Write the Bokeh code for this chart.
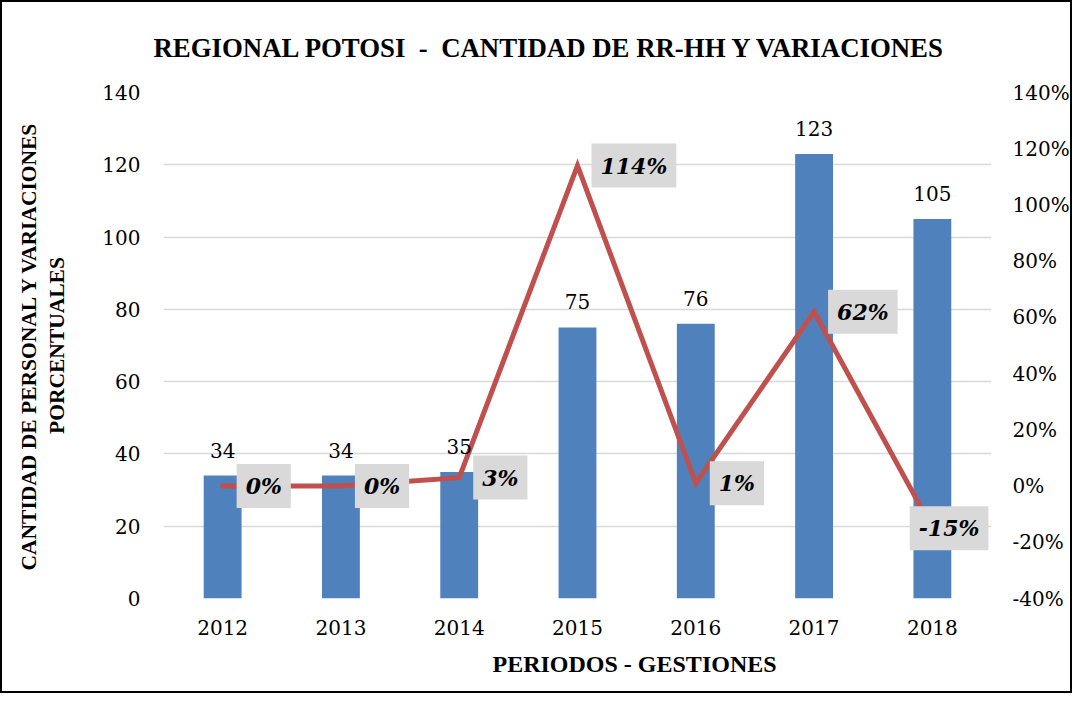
from bokeh.plotting import figure
from bokeh.models import (ColumnDataSource, Range1d, LinearAxis, FixedTicker,
                          PrintfTickFormatter, Label, LabelSet, FactorRange, Title)
from bokeh.embed import file_html
from bokeh.resources import INLINE
from bokeh.core.properties import value

# ---- data ----
years = ["2012", "2013", "2014", "2015", "2016", "2017", "2018"]
staff = [34, 34, 35, 75, 76, 123, 105]
variation = [0, 0, 3, 114, 1, 62, -15]
variation_labels = ["0%", "0%", "3%", "114%", "1%", "62%", "-15%"]
left_ticks = [0, 20, 40, 60, 80, 100, 120, 140]
right_ticks = [-40, -20, 0, 20, 40, 60, 80, 100, 120, 140]
title_text = "REGIONAL POTOSI \u00a0-\u00a0 CANTIDAD DE RR-HH Y VARIACIONES"
ylabel_text = "CANTIDAD DE PERSONAL Y VARIACIONES\nPORCENTUALES"
xlabel_text = "PERIODOS - GESTIONES"

BLUE = "#4f81bd"
RED = "#c0504d"
GRID = "#d9d9d9"
SERIF = "DejaVu Serif"
BOLDSERIF = "Liberation Serif"

src = ColumnDataSource(dict(year=years, staff=staff,
                            staff_label=[str(v) for v in staff],
                            var=variation))

# 1072x693 drawing area + 2px border = 1076x697 on the page
p = figure(x_range=FactorRange(*years), y_range=Range1d(left_ticks[0], left_ticks[-1]),
           width=1072, height=693, output_backend="svg", toolbar_location=None,
           title=None, min_border_left=161, min_border_right=83,
           min_border_top=90, min_border_bottom=97)
p.styles = {"border": "2px solid #000000"}
p.extra_y_ranges = {"pct": Range1d(right_ticks[0], right_ticks[-1])}
p.outline_line_color = None
p.background_fill_color = "white"
p.border_fill_color = "white"

p.xgrid.grid_line_color = None
p.ygrid.grid_line_color = GRID
p.ygrid.grid_line_width = 1.5
p.ygrid.ticker = FixedTicker(ticks=left_ticks)

p.yaxis.ticker = FixedTicker(ticks=left_ticks)
right_axis = LinearAxis(y_range_name="pct", ticker=FixedTicker(ticks=right_ticks),
                        formatter=PrintfTickFormatter(format="%d%%"))
p.add_layout(right_axis, "right")

for ax in [p.xaxis[0], p.yaxis[0], right_axis]:
    ax.axis_line_color = None
    ax.major_tick_line_color = None
    ax.minor_tick_line_color = None
    ax.major_tick_out = 0
    ax.major_tick_in = 0
    ax.minor_tick_out = 0
    ax.minor_tick_in = 0
    ax.major_label_text_font = SERIF
    ax.major_label_text_font_size = "20px"
    ax.major_label_text_color = "#000000"
p.xaxis[0].major_label_standoff = 21
p.yaxis[0].major_label_standoff = 23
right_axis.major_label_standoff = 21

p.yaxis[0].axis_label = ylabel_text
p.yaxis[0].axis_label_text_font = BOLDSERIF
p.yaxis[0].axis_label_text_font_style = "bold"
p.yaxis[0].axis_label_text_font_size = "21.5px"
p.yaxis[0].axis_label_text_color = "#000000"
p.yaxis[0].axis_label_standoff = 30

p.vbar(x="year", top="staff", width=0.32, source=src, fill_color=BLUE, line_color=None)
p.line(x="year", y="var", source=src, y_range_name="pct", line_color=RED,
       line_width=5, line_join="miter", line_cap="round")

p.add_layout(LabelSet(x="year", y="staff", text="staff_label", source=src,
                      text_align="center", text_baseline="alphabetic", y_offset=18,
                      text_font=value(SERIF), text_font_size="20px", text_color="#000000"))

last = len(variation) - 1
for i, (v, t) in enumerate(zip(variation, variation_labels)):
    # the last label would be cut by the plot frame, so it is right-aligned inside it
    p.add_layout(Label(x=i + 0.5, y=v, y_range_name="pct", text=t,
                       x_offset=56 if i == last else 14,
                       text_align="right" if i == last else "left",
                       text_baseline="middle",
                       text_font=SERIF, text_font_style="bold italic",
                       text_font_size="22px", text_color="#000000",
                       background_fill_color=GRID, padding=9))

# chart title and x-axis title
p.add_layout(Title(text=title_text, align="left", offset=-10, vertical_align="middle",
                   standoff=58, text_font=BOLDSERIF, text_font_style="bold",
                   text_font_size="26.8px", text_color="#000000"), "above")
p.add_layout(Title(text=xlabel_text, align="left", offset=329, vertical_align="bottom",
                   standoff=23, text_font=BOLDSERIF, text_font_style="bold",
                   text_font_size="24px", text_color="#000000"), "below")

open("out.html", "w").write(file_html(p, INLINE))
